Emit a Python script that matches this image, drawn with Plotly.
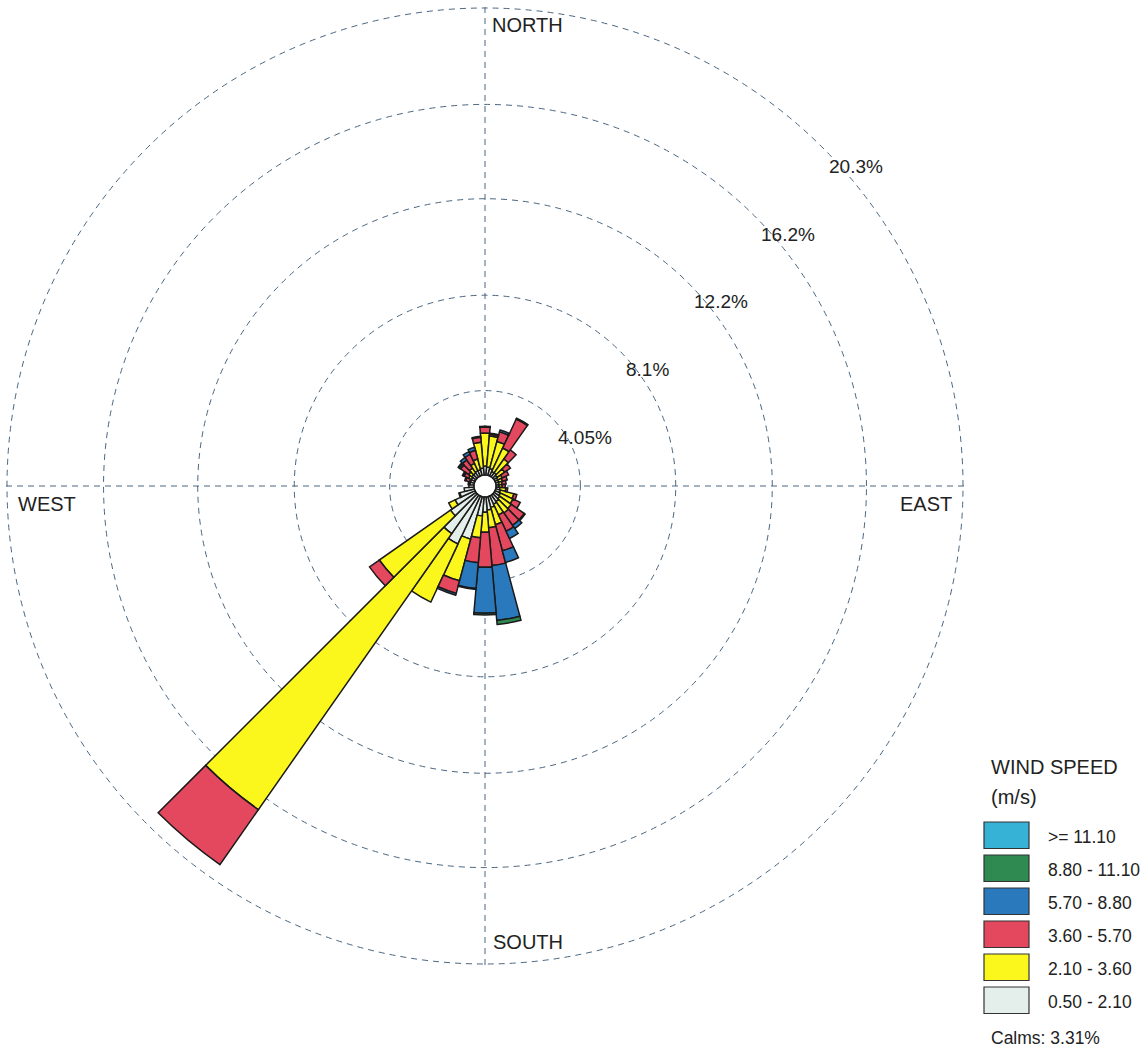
import math
import plotly.graph_objects as go

# ---- data -------------------------------------------------------------
directions = list(range(0, 360, 10))  # degrees, blowing-from direction

speed_labels = ["0.50 - 2.10", "2.10 - 3.60", "3.60 - 5.70",
                "5.70 - 8.80", "8.80 - 11.10", ">= 11.10"]

# frequency (%) per direction for each wind-speed class
freq_0p50_2p10 = [0.38, 0.34, 0.30, 0.21, 0.21, 0.17, 0.13, 0.13, 0.13, 0.13, 0.17, 0.21,
                  0.25, 0.30, 0.34, 0.38, 0.47, 0.55, 0.64, 0.81, 1.87, 2.25, 2.00, 1.32,
                  0.93, 0.64, 0.42, 0.21, 0.17, 0.17, 0.17, 0.21, 0.21, 0.25, 0.25, 0.30]
freq_2p10_3p60 = [1.40, 1.32, 1.19, 1.10, 0.72, 0.38, 0.21, 0.17, 0.13, 0.13, 0.25, 0.59,
                  0.59, 0.59, 0.59, 0.51, 0.76, 0.76, 0.85, 0.93, 1.83, 2.72, 14.31, 3.69,
                  0.30, 0.04, 0.00, 0.00, 0.04, 0.04, 0.13, 0.17, 0.25, 0.34, 0.47, 1.10]
freq_3p60_5p70 = [0.25, 0.08, 0.42, 1.36, 0.47, 0.30, 0.30, 0.21, 0.17, 0.13, 0.08, 0.13,
                  0.34, 0.68, 0.64, 0.76, 1.15, 1.61, 1.49, 1.06, 0.55, 0.00, 2.85, 0.51,
                  0.00, 0.00, 0.00, 0.00, 0.04, 0.17, 0.21, 0.42, 0.42, 0.42, 0.38, 0.21]
freq_5p70_8p80 = [0.04, 0.04, 0.08, 0.04, 0.00, 0.00, 0.00, 0.00, 0.00, 0.00, 0.00, 0.00,
                  0.00, 0.04, 0.17, 0.34, 0.51, 2.34, 1.95, 1.10, 0.08, 0.00, 0.00, 0.00,
                  0.00, 0.00, 0.00, 0.00, 0.00, 0.04, 0.04, 0.08, 0.13, 0.13, 0.13, 0.04]
freq_8p80_11p10 = [0.00, 0.00, 0.00, 0.00, 0.00, 0.00, 0.00, 0.00, 0.00, 0.00, 0.00, 0.00,
                   0.00, 0.00, 0.00, 0.00, 0.00, 0.17, 0.08, 0.04, 0.00, 0.00, 0.00, 0.00,
                   0.00, 0.00, 0.00, 0.00, 0.00, 0.00, 0.04, 0.04, 0.00, 0.00, 0.00, 0.00]
freq_ge_11p10 = [0.00] * 36

ring_values = [4.05, 8.1, 12.2, 16.2, 20.3]
ring_labels = ["4.05%", "8.1%", "12.2%", "16.2%", "20.3%"]
calms_pct = 3.31

# ---- styling ----------------------------------------------------------
class_colors = ["#e4efeb", "#fbf61c", "#e4485f", "#2b79bd", "#2f8a52", "#36b2d7"]
grid_color = "#4a6680"
text_color = "#222222"
font_family = "Liberation Sans, Arial, sans-serif"

W, H = 1148, 1049
CX, CY, R = 485, 486, 478          # centre and radius of the outermost ring (px)
PAD = 2                            # extra px so the outermost ring is inside the range
r_max = ring_values[-1]
r_edge = r_max * (R + PAD) / R
calm_radius = 0.47                 # radius of the calm disc, in % units

series = [freq_0p50_2p10, freq_2p10_3p60, freq_3p60_5p70,
          freq_5p70_8p80, freq_8p80_11p10, freq_ge_11p10]

fig = go.Figure()

# white calm disc covering the centre of the grid lines
fig.add_trace(go.Barpolar(r=[calm_radius], theta=[0], width=[360], base=0,
                          marker=dict(color="white", line=dict(width=0)),
                          hoverinfo="skip", showlegend=False))

# stacked speed classes, drawn with explicit bases
base = [calm_radius] * len(directions)
for label, vals, color in zip(speed_labels, series, class_colors):
    th, rr, bb = [], [], []
    for d, v, b in zip(directions, vals, base):
        if v > 0:
            th.append(d)
            rr.append(v)
            bb.append(b)
    if th:
        fig.add_trace(go.Barpolar(
            r=rr, theta=th, base=bb, width=10, name=label,
            marker=dict(color=color, line=dict(color="#1a1a1a", width=1.5)),
            showlegend=False))
    base = [b + v for b, v in zip(base, vals)]

dash = "6px,5px"
fig.update_layout(
    width=W, height=H,
    margin=dict(l=0, r=0, t=0, b=0),
    paper_bgcolor="white",
    font=dict(family=font_family, color=text_color),
    polar=dict(
        domain=dict(x=[(CX - R - PAD) / W, (CX + R + PAD) / W],
                    y=[1 - (CY + R + PAD) / H, 1 - (CY - R - PAD) / H]),
        bgcolor="white",
        barmode="overlay",
        radialaxis=dict(range=[0, r_edge], tickvals=ring_values, showticklabels=False,
                        ticks="", showline=False, gridcolor=grid_color, gridwidth=1,
                        griddash=dash, layer="below traces"),
        angularaxis=dict(rotation=90, direction="clockwise", tickvals=[0, 90, 180, 270],
                         showticklabels=False, ticks="", showline=False,
                         gridcolor=grid_color, gridwidth=1, griddash=dash,
                         layer="below traces"),
    ),
)


def px(x, y):
    return x / W, 1 - y / H


shapes = []
annotations = []
# ring labels along the north-east diagonal
for val, lab in zip(ring_values, ring_labels):
    rp = val / r_max * R
    x, y = px(CX + rp * math.cos(math.radians(45)), CY - rp * math.sin(math.radians(45)))
    annotations.append(dict(x=x, y=y, xref="paper", yref="paper", text=lab, showarrow=False,
                            xanchor="left", yanchor="top", xshift=4, yshift=-6,
                            font=dict(size=19)))

# compass labels
for lab, (x0, y0) in {"NORTH": (CX + 5, CY - R + 17), "SOUTH": (CX + 6, CY + R - 22),
                      "WEST": (CX - R + 9, CY + 18), "EAST": (CX + R - 65, CY + 18)}.items():
    x, y = px(x0, y0)
    annotations.append(dict(x=x, y=y, xref="paper", yref="paper", text=lab, showarrow=False,
                            xanchor="left", yanchor="middle", font=dict(size=20)))

# legend
LX, LY = 984, 822
annotations.append(dict(x=px(LX + 5, 0)[0], y=px(0, 767)[1], xref="paper", yref="paper",
                        text="WIND SPEED", showarrow=False, xanchor="left", yanchor="middle",
                        font=dict(size=20)))
annotations.append(dict(x=px(LX + 5, 0)[0], y=px(0, 797)[1], xref="paper", yref="paper",
                        text="(m/s)", showarrow=False, xanchor="left", yanchor="middle",
                        font=dict(size=20)))
for i, (label, color) in enumerate(zip(reversed(speed_labels), reversed(class_colors))):
    top = LY + i * 33
    x0, y0 = px(LX, top)
    x1, y1 = px(LX + 45, top + 26.5)
    shapes.append(dict(type="rect", xref="paper", yref="paper", x0=x0, x1=x1, y0=y1, y1=y0,
                       fillcolor=color, line=dict(color="#333333", width=1.2)))
    annotations.append(dict(x=px(LX + 62, 0)[0], y=px(0, top + 15)[1], xref="paper",
                            yref="paper", text=label, showarrow=False, xanchor="left",
                            yanchor="middle", font=dict(size=17.5)))
annotations.append(dict(x=px(LX + 5, 0)[0], y=px(0, 1038)[1], xref="paper", yref="paper",
                        text=f"Calms: {calms_pct:.2f}%", showarrow=False, xanchor="left",
                        yanchor="middle", font=dict(size=17.5)))

fig.update_layout(annotations=annotations, shapes=shapes)
fig.write_html("out.html")
